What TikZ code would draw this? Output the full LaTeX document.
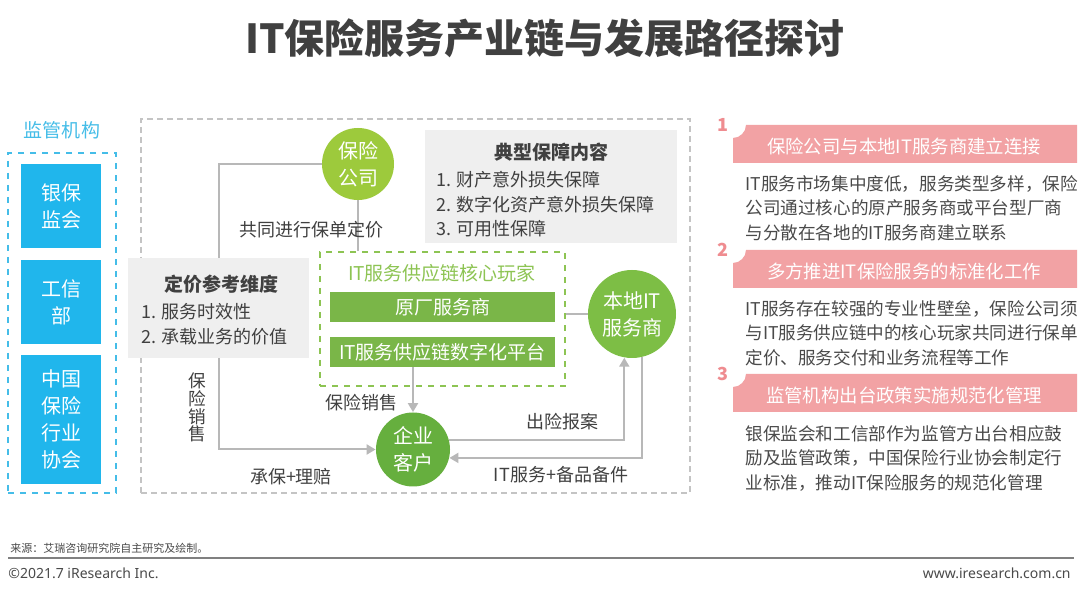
\documentclass[tikz,border=0pt]{standalone}
\usepackage{fontspec}
\setmainfont{Noto Sans CJK SC}
\newfontfamily\latinfont{Noto Sans}
\usepackage{tikz}
\usetikzlibrary{arrows.meta,positioning}
\definecolor{regblue}{HTML}{20B6EC}
\definecolor{reglight}{HTML}{45BDE8}
\definecolor{txtgray}{HTML}{404040}
\definecolor{bodygray}{HTML}{4A4A4A}
\definecolor{boxgray}{HTML}{EFEFEF}
\definecolor{linegray}{HTML}{B8B8B8}
\definecolor{framegray}{HTML}{C4C4C4}
\definecolor{limegreen}{HTML}{9DCA3C}
\definecolor{midgreen}{HTML}{7DBE45}
\definecolor{deepgreen}{HTML}{66AF3E}
\definecolor{bargreen}{HTML}{7AB648}
\definecolor{coregreen}{HTML}{8DC453}
\definecolor{ribpink}{HTML}{F2A2A4}
\definecolor{numpink}{HTML}{EF8C90}

\begin{document}
\begin{tikzpicture}[
  x=0.5pt, y=0.5pt,
  font=\fontsize{9}{12.25}\selectfont,
  regbox/.style={fill=regblue, text=white, align=center, inner sep=0pt,
                 minimum width=40pt, font=\fontsize{10}{13.5}\selectfont},
  actor/.style={circle, text=white, align=center, inner sep=0pt,
                font=\fontsize{10}{13.5}\selectfont},
  infobox/.style={fill=boxgray, inner sep=0pt},
  bar/.style={fill=bargreen, text=white, minimum width=112.5pt, minimum height=15pt,
              inner sep=0pt, font=\fontsize{9.5}{11}\selectfont},
  lbl/.style={text=txtgray, inner sep=1pt},
  head/.style={text=txtgray, inner sep=1pt, font=\fontsize{9.5}{11}\selectfont\bfseries},
  body/.style={text=bodygray, align=left, anchor=north west, inner sep=0pt,
               font=\fontsize{8.8}{12.25}\selectfont},
  conn/.style={draw=linegray, line width=1pt},
  ar/.style={-{Triangle[length=4.5pt, width=5pt]}}
]
\useasboundingbox (0,0) rectangle (1080,593);
\fill[white] (0,0) rectangle (1080,593);

\node[text=txtgray, font=\fontsize{20}{23}\selectfont\bfseries] (title) at (545,555)
  {IT保险服务产业链与发展路径探讨};

% regulators
\node[text=reglight, font=\fontsize{9.5}{11}\selectfont] (regtitle) at (62,463) {监管机构};
\node[draw=reglight, dashed, line width=1pt, minimum width=54pt, minimum height=170pt] (regframe) at (62,270) {};
\node[regbox, minimum height=42pt] (cbirc) at (61,387) {银保\\监会};
\node[regbox, minimum height=42pt] (miit) at (61,291) {工信\\部};
\node[regbox, minimum height=64.5pt] (iac) at (61,173.5) {中国\\保险\\行业\\协会};

% chain
\node[draw=framegray, dash pattern=on 3pt off 2pt, line width=0.6pt,
      minimum width=274.5pt, minimum height=187pt] (chain) at (415.5,287) {};

\node[infobox, minimum width=126pt, minimum height=56.5pt] (coverbox) at (551,406.5) {};
\node[head] (covertitle) at (551,441) {典型保障内容};
\node[body, text=txtgray, font=\fontsize{9}{12.25}\selectfont] (coverlist) at (436,422)
  {1. 财产意外损失保障\\2. 数字化资产意外损失保障\\3. 可用性保障};

\node[infobox, minimum width=90.5pt, minimum height=50pt] (pricebox) at (218.5,285) {};
\node[head] (pricetitle) at (221,309) {定价参考维度};
\node[body, text=txtgray, font=\fontsize{9}{12.25}\selectfont] (pricelist) at (141,290)
  {1. 服务时效性\\2. 承载业务的价值};

\node[draw=coregreen, dashed, line width=0.8pt, minimum width=122.5pt, minimum height=67pt] (core) at (442.5,274) {};
\node[text=coregreen, font=\fontsize{9.5}{11}\selectfont] (coretitle) at (442,320) {IT服务供应链核心玩家};
\node[bar] (oem) at (442.5,286) {原厂服务商};
\node[bar] (platform) at (442.5,241) {IT服务供应链数字化平台};

\node[actor, fill=limegreen, minimum size=36pt] (insco) at (358,429) {保险\\公司};
\node[actor, fill=midgreen, minimum size=44pt] (localit) at (632,279) {本地IT\\服务商};
\node[actor, fill=deepgreen, minimum size=37pt] (client) at (413,143.5) {企业\\客户};

\draw[conn] (insco.west) -| (pricebox.north);
\draw[conn, ar] (pricebox.south) |- (client.west);
\draw[conn] (insco.south) -- (insco.south |- core.north);
\draw[conn, ar] (client.north |- platform.south) -- (client.north);
\draw[conn] (localit.west) -- (localit.west -| core.east);
\draw[conn, ar] (client.15) -| (localit.-100);
\draw[conn, ar] (localit.-77) |- (client.-13);

\node[lbl] (jointpricing) at (311,363) {共同进行保单定价};
\node[lbl, align=center, font=\fontsize{8.8}{8.9}\selectfont] (salesleft) at (197,185.5) {保\\险\\销\\售};
\node[lbl] (underwrite) at (291,116) {承保+理赔};
\node[lbl] (salescore) at (361,190) {保险销售};
\node[lbl] (claimreport) at (562,171) {出险报案};
\node[lbl] (itservice) at (561,118) {IT服务+备品备件};

% development paths
\foreach \yt/\idx/\txt in {468/1/保险公司与本地IT服务商建立连接,
                           343/2/多方推进IT保险服务的标准化工作,
                           219/3/监管机构出台政策实施规范化管理}{
  \fill[ribpink] (733,\yt-38) -- (733,\yt-13) .. controls (740,\yt-13) and (746,\yt-7) .. (746,\yt)
    -- (1077,\yt) -- (1077,\yt-38) -- cycle;
  \node[text=white, font=\fontsize{9.2}{11}\selectfont] (rib\idx) at (904,\yt-21) {\txt};
  \node[text=numpink, font=\fontsize{9}{11}\selectfont\bfseries] (num\idx) at (723,\yt) {\idx};
}
\node[body] (body1) at (745,418)
  {IT服务市场集中度低，服务类型多样，保险\\公司通过核心的原产服务商或平台型厂商\\与分散在各地的IT服务商建立联系};
\node[body] (body2) at (745,293)
  {IT服务存在较强的专业性壁垒，保险公司须\\与IT服务供应链中的核心玩家共同进行保单\\定价、服务交付和业务流程等工作};
\node[body] (body3) at (745,168)
  {银保监会和工信部作为监管方出台相应鼓\\励及监管政策，中国保险行业协会制定行\\业标准，推动IT保险服务的规范化管理};

% footer
\node[anchor=west, text=bodygray, inner sep=0pt, font=\fontsize{5.5}{7}\selectfont] (source) at (10,45)
  {来源：艾瑞咨询研究院自主研究及绘制。};
\draw[draw=gray, line width=1pt] (8,35) -- (1074,35);
\node[anchor=west, text=bodygray, inner sep=0pt, font=\latinfont\fontsize{7}{8}\selectfont] (copyright) at (8,20)
  {©2021.7 iResearch Inc.};
\node[anchor=east, text=bodygray, inner sep=0pt, font=\latinfont\fontsize{7}{8}\selectfont] (website) at (1071,20)
  {www.iresearch.com.cn};
\end{tikzpicture}
\end{document}
